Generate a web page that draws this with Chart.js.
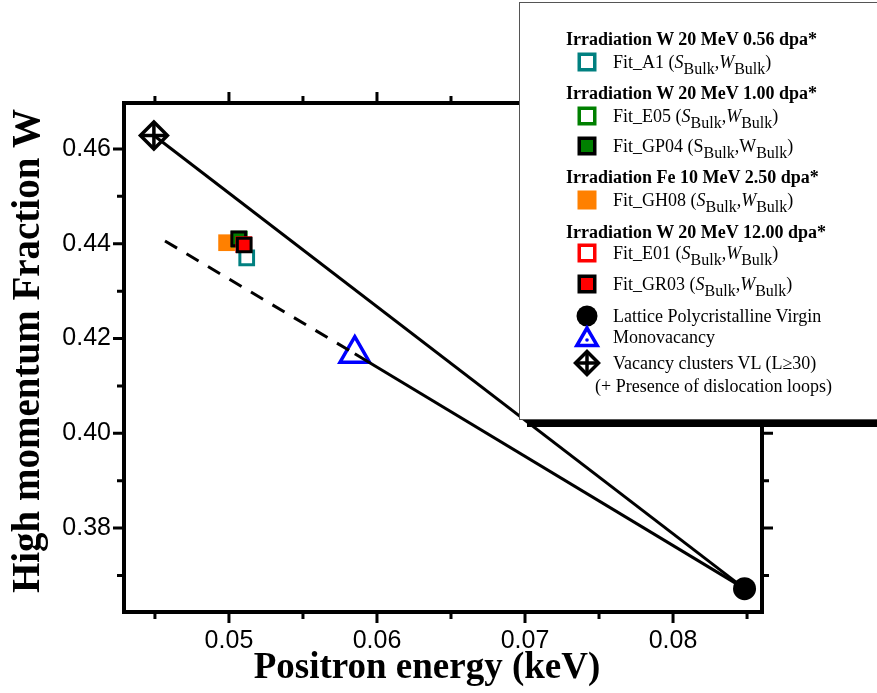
<!DOCTYPE html>
<html>
<head>
<meta charset="utf-8">
<script src="https://cdn.jsdelivr.net/npm/chart.js@4.4.1/dist/chart.umd.min.js"></script>
<style>
  html, body { margin: 0; padding: 0; background: #fff; }
  #wrap { position: relative; width: 877px; height: 693px; overflow: hidden; background: #fff; }
  #c { position: absolute; left: 0; top: 0; }
  #legend { position: absolute; left: 519px; top: 2px; width: 420px; height: 416px;
            border: 1.5px solid #555; background: #fff; box-shadow: 8px 7px 0 #000; }
  .lg { position: absolute; font-family: "Liberation Serif", "Times New Roman", serif; font-size: 18px;
        line-height: 18px; white-space: nowrap; color: #000; }
  .lg.b { font-weight: bold; }
  .lg sub { font-size: 16px; vertical-align: -6px; line-height: 0; }
  .sym { position: absolute; width: 30px; height: 30px; }
</style>
</head>
<body>
<div id="wrap">
  <canvas id="c" width="877" height="693"></canvas>
  <div id="legend"></div>
</div>
<script>
// ---------------- data ----------------
const seriesLabels = ['Fit_A1', 'Fit_E05', 'Fit_GP04', 'Fit_GH08', 'Fit_E01', 'Fit_GR03',
                      'Lattice Polycristalline Virgin', 'Monovacancy', 'Vacancy clusters VL (L\u226530)'];
const positronEnergy = [0.0512, 0.0507, 0.05066, 0.04984, 0.0510, 0.05103, 0.08483, 0.0585, 0.04493];
const fractionW      = [0.4370, 0.4410, 0.44105, 0.44022, 0.4398, 0.43974, 0.36723, 0.4168, 0.46285];
const dashedStart    = [0.04568, 0.44058];
const groupHeadings  = ['Irradiation W 20 MeV 0.56 dpa*', 'Irradiation W 20 MeV 1.00 dpa*',
                        'Irradiation Fe 10 MeV 2.50 dpa*', 'Irradiation W 20 MeV 12.00 dpa*'];
const xTickLabels = ['0.05', '0.06', '0.07', '0.08'];
const yTickLabels = ['0.38', '0.40', '0.42', '0.44', '0.46'];
const xMinorTicks = [0.045, 0.055, 0.065, 0.075, 0.085];
const yMinorTicks = [0.37, 0.39, 0.41, 0.43, 0.45];
const xLimits = [0.04291, 0.08601];
const yLimits = [0.3623, 0.4697];
const xTitle = 'Positron energy (keV)';
const yTitle = 'High momentum Fraction W';

// ---------------- styles ----------------
const TEAL = '#008080', GREEN = '#008000', ORANGE = '#FF8000', RED = '#FF0000', BLUE = '#0000FF';
const markerStyle = [
  { ps: 'rect', r: 9.7, bg: '#fff', bc: TEAL, bw: 3, order: 7 },
  { ps: 'rect', r: 9.7, bg: '#fff', bc: GREEN, bw: 3, order: 5 },
  { ps: 'rect', r: 9.7, bg: GREEN, bc: '#000', bw: 3, order: 4 },
  { ps: 'rect', r: 11.8, bg: ORANGE, bc: ORANGE, bw: 0, order: 6 },
  { ps: 'rect', r: 9.7, bg: '#fff', bc: RED, bw: 3, order: 3 },
  { ps: 'rect', r: 9.7, bg: RED, bc: '#000', bw: 3, order: 2 },
  { ps: 'circle', r: 11.5, bg: '#000', bc: '#000', bw: 0, order: 2 },
  { ps: 'triangle', r: 17, bg: '#fff', bc: BLUE, bw: 3.5, order: 2 },
  { ps: 'rectRot', r: 13.5, bg: '#fff', bc: '#000', bw: 3.5, order: 2 }
];

const pt = i => ({ x: positronEnergy[i], y: fractionW[i] });
const datasets = [];
const VIRGIN = 6, MONO = 7, VL = 8;
// lines (on top of markers)
datasets.push({ label: 'VL-Virgin', data: [pt(VL), pt(VIRGIN)], showLine: true, borderColor: '#000',
                borderWidth: 3, pointRadius: 0, order: 0 });
datasets.push({ label: 'Mono-Virgin', data: [pt(MONO), pt(VIRGIN)], showLine: true, borderColor: '#000',
                borderWidth: 3, pointRadius: 0, order: 0 });
datasets.push({ label: 'Mono extension', data: [{ x: dashedStart[0], y: dashedStart[1] }, pt(MONO)], showLine: true,
                borderColor: '#000', borderWidth: 3, borderDash: [14, 11], pointRadius: 0, order: 0 });
seriesLabels.forEach((lab, i) => {
  const s = markerStyle[i];
  datasets.push({ label: lab, data: [pt(i)], showLine: false, pointStyle: s.ps, pointRadius: s.r,
                  pointHoverRadius: s.r, backgroundColor: s.bg, borderColor: s.bc, borderWidth: s.bw,
                  order: s.order });
});
// cross inside the VL diamond
datasets.push({ label: 'VL cross', data: [pt(VL)], showLine: false, pointStyle: 'cross', pointRadius: 13.5,
                borderColor: '#000', borderWidth: 3.5, order: 1 });

// ---------------- frame + ticks plugin ----------------
const framePlugin = {
  id: 'frame',
  beforeDatasetsDraw(chart) {
    const { ctx, chartArea: a, scales: { x, y } } = chart;
    ctx.save();
    ctx.strokeStyle = '#000';
    ctx.lineWidth = 4;
    ctx.lineJoin = 'miter';
    ctx.strokeRect(a.left, a.top, a.right - a.left, a.bottom - a.top);
    ctx.lineWidth = 3;
    ctx.lineCap = 'butt';
    const xt = [...xTickLabels.map(v => [parseFloat(v), 11]), ...xMinorTicks.map(v => [v, 7])];
    const yt = [...yTickLabels.map(v => [parseFloat(v), 11]), ...yMinorTicks.map(v => [v, 7])];
    ctx.beginPath();
    xt.forEach(([v, len]) => {
      const px = x.getPixelForValue(v);
      ctx.moveTo(px, a.bottom); ctx.lineTo(px, a.bottom + len);
      ctx.moveTo(px, a.top); ctx.lineTo(px, a.top - len);
    });
    yt.forEach(([v, len]) => {
      const py = y.getPixelForValue(v);
      ctx.moveTo(a.left, py); ctx.lineTo(a.left - len, py);
      ctx.moveTo(a.right, py); ctx.lineTo(a.right + len, py);
    });
    ctx.stroke();
    ctx.restore();
  },
  afterDraw(chart) {
    const { ctx } = chart;
    ctx.save();
    ctx.fillStyle = '#000';
    ctx.textAlign = 'center';
    ctx.textBaseline = 'middle';
    ctx.font = 'bold 37px "Liberation Serif"';
    ctx.fillText(xTitle, 427, 668);
    ctx.translate(29, 351);
    ctx.rotate(-Math.PI / 2);
    ctx.font = 'bold 39px "Liberation Serif"';
    ctx.fillText(yTitle, 0, 0);
    ctx.restore();
  }
};

new Chart(document.getElementById('c'), {
  type: 'scatter',
  data: { datasets },
  plugins: [framePlugin],
  options: {
    responsive: false,
    animation: false,
    events: [],
    layout: { padding: { top: 103, right: 115, left: 0, bottom: 0 } },
    plugins: { legend: { display: false }, tooltip: { enabled: false } },
    scales: {
      x: {
        type: 'linear', min: xLimits[0], max: xLimits[1],
        afterFit: s => { s.height = 81; },
        afterBuildTicks: s => { s.ticks = xTickLabels.map(t => ({ value: parseFloat(t) })); },
        grid: { display: false, drawTicks: false },
        border: { display: false },
        ticks: { color: '#000', padding: 14, font: { family: 'Liberation Sans', size: 25 },
                 callback: v => v.toFixed(2), maxRotation: 0, autoSkip: false },
        title: { display: false }
      },
      y: {
        type: 'linear', min: yLimits[0], max: yLimits[1],
        afterFit: s => { s.width = 124; },
        afterBuildTicks: s => { s.ticks = yTickLabels.map(t => ({ value: parseFloat(t) })); },
        grid: { display: false, drawTicks: false },
        border: { display: false },
        ticks: { color: '#000', padding: 13, font: { family: 'Liberation Sans', size: 25 },
                 callback: v => v.toFixed(2), autoSkip: false },
        title: { display: false }
      }
    }
  }
});

// ---------------- HTML legend ----------------
const legendHost = document.getElementById('wrap');
const SYM_X = 586.5;
function addText(cy, left, html, bold) {
  const d = document.createElement('div');
  d.className = 'lg' + (bold ? ' b' : '');
  d.style.left = left + 'px';
  d.style.top = (cy - 9) + 'px';
  d.innerHTML = html;
  legendHost.appendChild(d);
}
function addSym(cy, svgInner) {
  const d = document.createElement('div');
  d.className = 'sym';
  d.style.left = (SYM_X - 15) + 'px';
  d.style.top = (cy - 15) + 'px';
  d.innerHTML = '<svg width="30" height="30" viewBox="0 0 30 30">' + svgInner + '</svg>';
  legendHost.appendChild(d);
}
const sq = (fill, stroke) => stroke
  ? `<rect x="7.25" y="7.25" width="15.5" height="15.5" fill="${fill}" stroke="${stroke}" stroke-width="3.5"/>`
  : `<rect x="5.5" y="5.5" width="19" height="19" fill="${fill}"/>`;
const fitText = (name, italic) => italic
  ? `${name} (<i>S</i><sub>Bulk</sub>,<i>W</i><sub>Bulk</sub>)`
  : `${name} (S<sub>Bulk</sub>,W<sub>Bulk</sub>)`;

const TX = 613, HX = 566;
addText(39, HX, groupHeadings[0], true);
addSym(62, sq('#fff', TEAL));   addText(62, TX, fitText(seriesLabels[0], true));
addText(93, HX, groupHeadings[1], true);
addSym(116, sq('#fff', GREEN)); addText(116, TX, fitText(seriesLabels[1], true));
addSym(146, sq(GREEN, '#000')); addText(146, TX, fitText(seriesLabels[2], false));
addText(177, HX, groupHeadings[2], true);
addSym(200, sq(ORANGE));        addText(200, TX, fitText(seriesLabels[3], true));
addText(232, HX, groupHeadings[3], true);
addSym(253, sq('#fff', RED));   addText(253, TX, fitText(seriesLabels[4], true));
addSym(284, sq(RED, '#000'));   addText(284, TX, fitText(seriesLabels[5], true));
addSym(316, '<circle cx="15" cy="15" r="10.5" fill="#000"/>');
addText(316, TX, seriesLabels[6]);
addSym(337, `<polygon points="15,6 4.8,23.5 25.2,23.5" fill="#fff" stroke="${BLUE}" stroke-width="3.5"/><circle cx="15" cy="18" r="1.8" fill="${BLUE}"/>`);
addText(337, TX, seriesLabels[7]);
addSym(363, '<polygon points="15,3.5 26.5,15 15,26.5 3.5,15" fill="#fff" stroke="#000" stroke-width="3.5"/><path d="M15 3.5 V26.5 M3.5 15 H26.5" stroke="#000" stroke-width="3.5"/>');
addText(363, TX, seriesLabels[8]);
addText(386, 595, '(+ Presence of dislocation loops)');
</script>
</body>
</html>
